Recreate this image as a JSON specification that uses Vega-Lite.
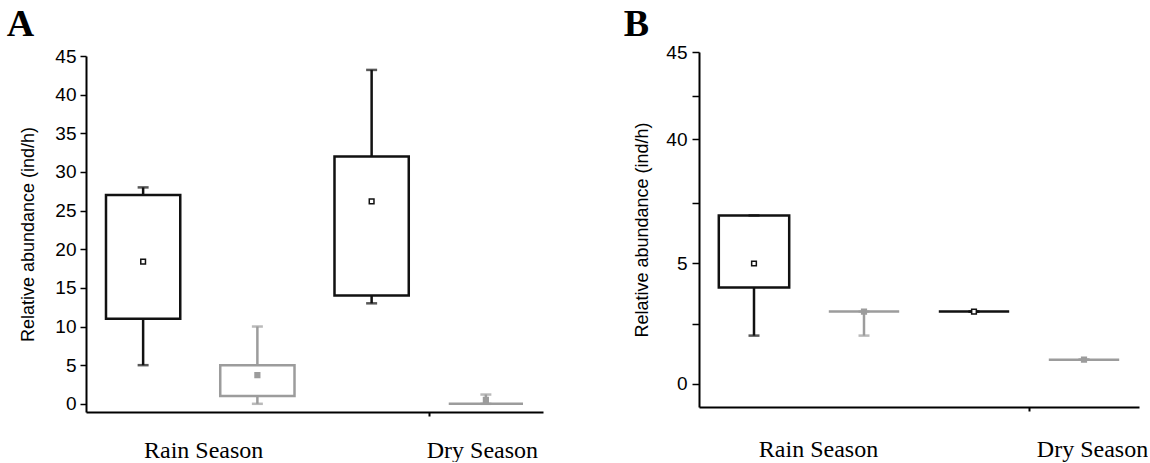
{
  "$schema": "https://vega.github.io/schema/vega-lite/v6.json",
  "background": "white",
  "padding": {"left": 6, "top": 6, "right": 0, "bottom": 0},
  "spacing": 80,
  "datasets": {
    "a": [
      {"group": "r1", "species": "black", "min": 5, "q1": 11, "q3": 27, "max": 28, "mean": 18.4},
      {"group": "r2", "species": "gray", "min": 0, "q1": 1, "q3": 5, "max": 10, "mean": 3.7},
      {"group": "d1", "species": "black", "min": 13, "q1": 14, "q3": 32, "max": 43.2, "mean": 26.2},
      {"group": "d2", "species": "gray", "min": 0, "q1": 0, "q3": 0, "max": 1.2, "mean": 0.5}
    ],
    "b": [
      {"group": "r1", "species": "black", "min": 2, "q1": 4, "q3": 7, "max": 7, "mean": 5},
      {"group": "r2", "species": "gray", "min": 2, "q1": 3, "q3": 3, "max": 3, "mean": 3},
      {"group": "d1", "species": "black", "min": 3, "q1": 3, "q3": 3, "max": 3, "mean": 3},
      {"group": "d2", "species": "gray", "min": 1, "q1": 1, "q3": 1, "max": 1, "mean": 1}
    ]
  },
  "hconcat": [
    {
      "width": 457,
      "height": 356,
      "title": {"text": "A", "font": "Liberation Serif", "fontWeight": "bold", "fontSize": 38, "anchor": "start", "dx": -13, "color": "black", "offset": 3},
      "data": {"name": "a"},
      "encoding": {
        "x": {
          "field": "group", "type": "nominal", "sort": ["r1", "r2", "d1", "d2"],
          "scale": {"domain": ["r1", "r2", "d1", "d2"], "paddingInner": 0, "paddingOuter": 0},
          "axis": {
            "title": null, "tickBand": "extent", "tickSize": 4, "tickWidth": 2, "tickColor": "black",
            "tickOpacity": {"condition": {"test": "datum.value === 'd1'", "value": 1}, "value": 0},
            "domainWidth": 2, "domainColor": "black", "labelAngle": 0,
            "labelFont": "Liberation Serif", "labelFontSize": 24, "labelColor": "black", "labelPadding": 22,
            "labelOverlap": false, "labelBound": false,
            "labelExpr": "datum.value === 'r1' ? 'Rain Season' : (datum.value === 'd2' ? 'Dry Season' : '')",
            "labelOffset": {"condition": {"test": "datum.value === 'r1'", "value": 60}, "value": -4}
          }
        },
        "y": {"field": "min", "type": "quantitative",
          "scale": {"domain": [-1.06, 45], "nice": false, "zero": false},
          "axis": {"title": "Relative abundance (ind/h)", "values": [0, 5, 10, 15, 20, 25, 30, 35, 40, 45],
            "grid": false, "tickSize": 6, "tickWidth": 1.5, "tickColor": "black", "domainWidth": 2, "domainColor": "black",
            "labelOverlap": false, "labelBound": false,
            "labelFont": "Liberation Sans", "labelFontSize": 19, "labelColor": "black", "labelPadding": 4,
            "titleFont": "Liberation Sans", "titleFontSize": 18, "titleFontWeight": "normal", "titleColor": "black", "titlePadding": 17}}
      },
      "layer": [
        {
          "mark": {"type": "rule", "strokeWidth": 2.5},
          "encoding": {
            "y2": {"field": "max"},
            "color": {"field": "species", "type": "nominal", "scale": {"domain": ["black", "gray"], "range": ["#111111", "#9c9c9c"]}, "legend": null}
          }
        },
        {
          "mark": {"type": "bar", "fill": "white", "strokeWidth": 2.5, "width": {"band": 0.65}},
          "encoding": {
            "y": {"field": "q1", "type": "quantitative"},
            "y2": {"field": "q3"},
            "stroke": {"field": "species", "type": "nominal", "scale": {"domain": ["black", "gray"], "range": ["#111111", "#9c9c9c"]}, "legend": null}
          }
        },
        {
          "mark": {"type": "tick", "size": 11, "thickness": 2.5},
          "encoding": {
            "color": {"field": "species", "type": "nominal", "legend": null}
          }
        },
        {
          "mark": {"type": "tick", "size": 11, "thickness": 2.5},
          "encoding": {
            "y": {"field": "max", "type": "quantitative"},
            "color": {"field": "species", "type": "nominal", "legend": null}
          }
        },
        {
          "mark": {"type": "point", "shape": "square", "size": 22, "strokeWidth": 1.5, "opacity": 1},
          "encoding": {
            "y": {"field": "mean", "type": "quantitative"},
            "stroke": {"field": "species", "type": "nominal", "legend": null},
            "fill": {"condition": {"test": "datum.species === 'gray'", "value": "#9c9c9c"}, "value": "white"}
          }
        }
      ]
    },
    {
      "width": 440,
      "height": 351,
      "title": {"text": "B", "font": "Liberation Serif", "fontWeight": "bold", "fontSize": 38, "anchor": "start", "dx": -10, "color": "black", "offset": -1},
      "data": {"name": "b"},
      "encoding": {
        "x": {
          "field": "group", "type": "nominal", "sort": ["r1", "r2", "d1", "d2"],
          "scale": {"domain": ["r1", "r2", "d1", "d2"], "paddingInner": 0, "paddingOuter": 0},
          "axis": {
            "title": null, "tickBand": "extent", "tickSize": 4, "tickWidth": 2, "tickColor": "black",
            "tickOpacity": {"condition": {"test": "datum.value === 'd1'", "value": 1}, "value": 0},
            "domainWidth": 2, "domainColor": "black", "labelAngle": 0,
            "labelFont": "Liberation Serif", "labelFontSize": 24, "labelColor": "black", "labelPadding": 26,
            "labelOverlap": false, "labelBound": false,
            "labelExpr": "datum.value === 'r1' ? 'Rain Season' : (datum.value === 'd2' ? 'Dry Season' : '')",
            "labelOffset": {"condition": {"test": "datum.value === 'r1'", "value": 64}, "value": 8}
          }
        },
        "y": {"field": "min", "type": "quantitative",
          "scale": {"domain": [-0.97, 10, 40, 45], "range": [351, 87.3, 83.3, -4], "nice": false, "zero": false},
          "axis": {"title": "Relative abundance (ind/h)", "values": [0, 2.5, 5, 7.5, 40, 42.5, 45],
            "labelExpr": "(datum.value === 0 || datum.value === 5 || datum.value === 40 || datum.value === 45) ? datum.label : ''",
            "labelOverlap": false, "labelBound": false,
            "grid": false, "tickSize": 7, "tickWidth": 1.5, "tickColor": "black", "domainWidth": 2, "domainColor": "black",
            "labelFont": "Liberation Sans", "labelFontSize": 19, "labelColor": "black", "labelPadding": 5,
            "titleFont": "Liberation Sans", "titleFontSize": 18, "titleFontWeight": "normal", "titleColor": "black", "titlePadding": 14}}
      },
      "layer": [
        {
          "mark": {"type": "rule", "strokeWidth": 2.5},
          "encoding": {
            "y2": {"field": "max"},
            "color": {"field": "species", "type": "nominal", "scale": {"domain": ["black", "gray"], "range": ["#111111", "#9c9c9c"]}, "legend": null}
          }
        },
        {
          "mark": {"type": "bar", "fill": "white", "strokeWidth": 2.5, "width": {"band": 0.64}},
          "encoding": {
            "y": {"field": "q1", "type": "quantitative"},
            "y2": {"field": "q3"},
            "stroke": {"field": "species", "type": "nominal", "scale": {"domain": ["black", "gray"], "range": ["#111111", "#9c9c9c"]}, "legend": null}
          }
        },
        {
          "mark": {"type": "tick", "size": 11, "thickness": 2.5},
          "encoding": {
            "color": {"field": "species", "type": "nominal", "legend": null}
          }
        },
        {
          "mark": {"type": "tick", "size": 11, "thickness": 2.5},
          "encoding": {
            "y": {"field": "max", "type": "quantitative"},
            "color": {"field": "species", "type": "nominal", "legend": null}
          }
        },
        {
          "mark": {"type": "point", "shape": "square", "size": 22, "strokeWidth": 1.5, "opacity": 1},
          "encoding": {
            "y": {"field": "mean", "type": "quantitative"},
            "stroke": {"field": "species", "type": "nominal", "legend": null},
            "fill": {"condition": {"test": "datum.species === 'gray'", "value": "#9c9c9c"}, "value": "white"}
          }
        }
      ]
    }
  ],
  "config": {"view": {"stroke": null}, "axis": {"labelOverlap": false}}
}
